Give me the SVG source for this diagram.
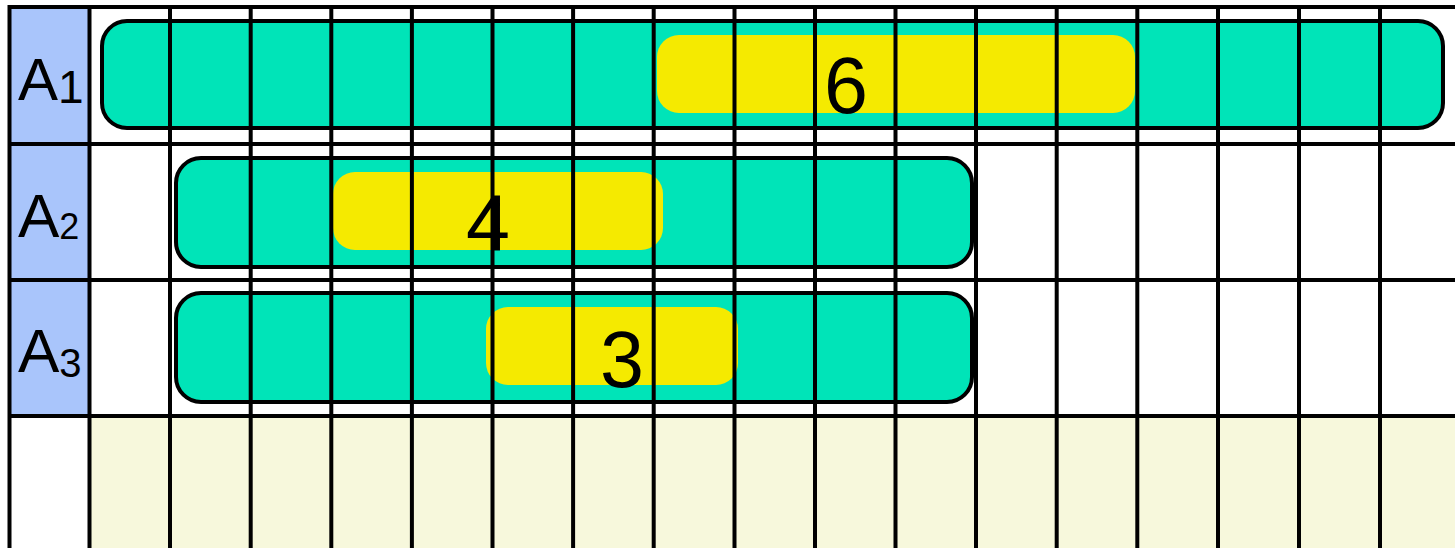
<svg xmlns="http://www.w3.org/2000/svg" width="1455" height="548" viewBox="0 0 1455 548">
<style>
.bg{fill:#ffffff}
.lab{fill:#a9c5fb}
.foot{fill:#f7f8dc}
.bar{fill:#00e4b8;stroke:#000;stroke-width:4}
.hl{fill:#f5ea00}
.t{font-family:"Liberation Sans",Arial,sans-serif;fill:#000}
.grid line{stroke:#000;stroke-width:4}
</style>
<rect class="bg" x="0" y="0" width="1455" height="548"/>
<g id="backgrounds">
<rect class="lab" x="10" y="7" width="80" height="409"/>
<rect class="foot" x="90" y="416" width="1365" height="132"/>
</g>
<g id="row-A1">
<rect class="bar" x="102" y="21" width="1341" height="107" rx="25"/>
<rect class="hl" x="657" y="35" width="478" height="78" rx="22"/>
<text class="t" x="846" y="113" font-size="79" text-anchor="middle">6</text>
<text class="t" x="18" y="100" font-size="60">A<tspan font-size="46" dy="3">1</tspan></text>
</g>
<g id="row-A2">
<rect class="bar" x="176" y="158" width="796" height="109" rx="25"/>
<rect class="hl" x="333" y="172" width="330" height="78" rx="22"/>
<text class="t" x="488" y="250" font-size="79" text-anchor="middle">4</text>
<text class="t" x="18" y="237" font-size="62">A<tspan font-size="36" dy="2">2</tspan></text>
</g>
<g id="row-A3">
<rect class="bar" x="176" y="293" width="796" height="109" rx="25"/>
<rect class="hl" x="486" y="307" width="252" height="78" rx="22"/>
<text class="t" x="622" y="387" font-size="79" text-anchor="middle">3</text>
<text class="t" x="18" y="372" font-size="62">A<tspan font-size="40" dy="5">3</tspan></text>
</g>
<g id="connectors" class="grid">
<line x1="8" y1="7" x2="1455" y2="7"/>
<line x1="8" y1="144" x2="1455" y2="144"/>
<line x1="8" y1="280" x2="1455" y2="280"/>
<line x1="8" y1="416" x2="1455" y2="416"/>
<line x1="9.5" y1="5" x2="9.5" y2="548"/>
<line x1="89.5" y1="5" x2="89.5" y2="548"/>
<line x1="170" y1="5" x2="170" y2="548"/>
<line x1="250.7" y1="5" x2="250.7" y2="548"/>
<line x1="331.3" y1="5" x2="331.3" y2="548"/>
<line x1="411.9" y1="5" x2="411.9" y2="548"/>
<line x1="492.5" y1="5" x2="492.5" y2="548"/>
<line x1="573.1" y1="5" x2="573.1" y2="548"/>
<line x1="653.7" y1="5" x2="653.7" y2="548"/>
<line x1="734.5" y1="5" x2="734.5" y2="548"/>
<line x1="815" y1="5" x2="815" y2="548"/>
<line x1="895.5" y1="5" x2="895.5" y2="548"/>
<line x1="976" y1="5" x2="976" y2="548"/>
<line x1="1056.7" y1="5" x2="1056.7" y2="548"/>
<line x1="1137.3" y1="5" x2="1137.3" y2="548"/>
<line x1="1218" y1="5" x2="1218" y2="548"/>
<line x1="1299" y1="5" x2="1299" y2="548"/>
<line x1="1380" y1="5" x2="1380" y2="548"/>
</g>
</svg>
